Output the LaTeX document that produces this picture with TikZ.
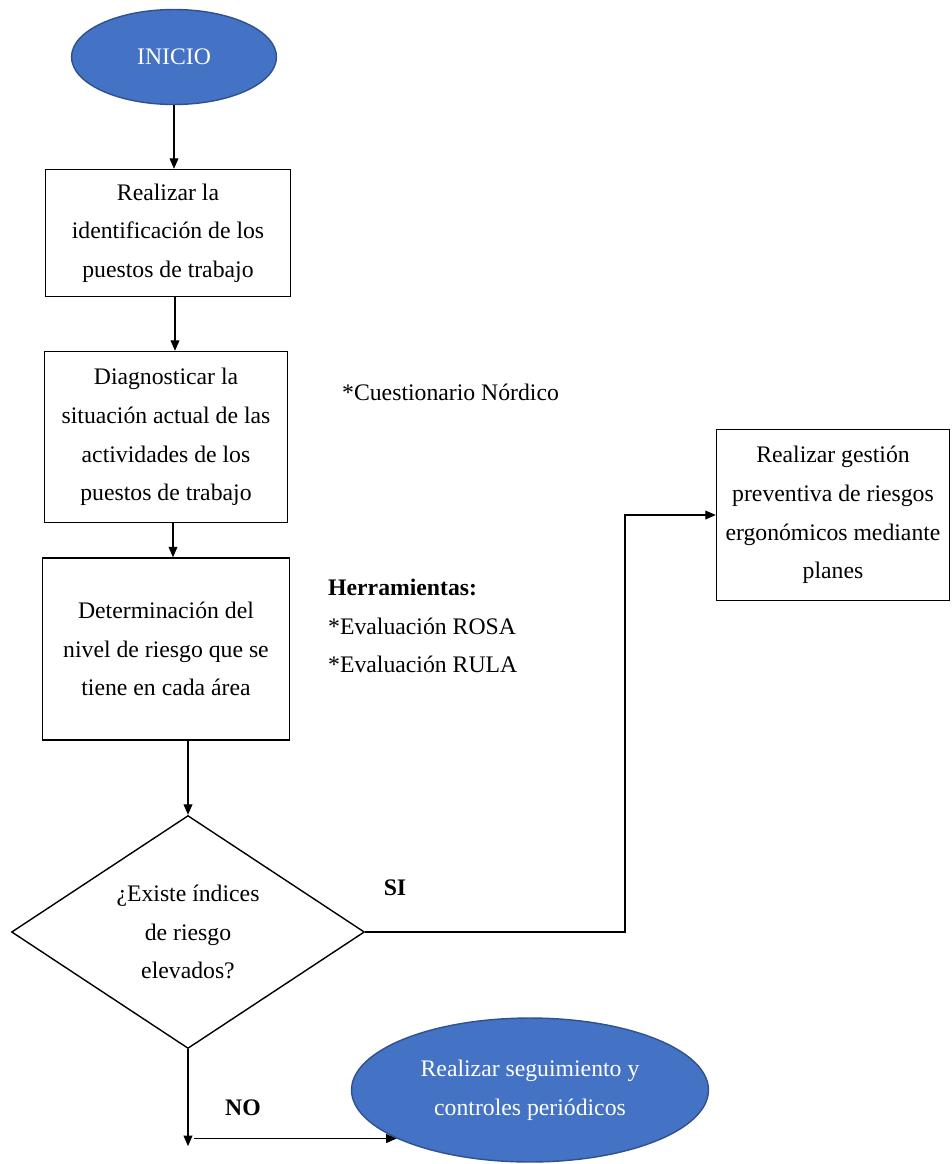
\documentclass[tikz,border=0pt]{standalone}
\usepackage{fontspec}
\setmainfont{Liberation Serif}
\usepackage{tikz}
\usetikzlibrary{shapes.geometric, arrows.meta}
\definecolor{wordblue}{RGB}{68,114,196}
\definecolor{wordnavy}{RGB}{47,82,143}

\begin{document}
\begin{tikzpicture}[x=0.02cm, y=-0.02cm,
    every node/.style={font=\fontsize{13.5}{22}\selectfont},
    caja/.style={draw, line width=0.8pt, align=center, inner sep=0pt},
    terminal/.style={ellipse, draw=wordnavy, fill=wordblue, text=white, line width=0.8pt, align=center, inner sep=0pt},
    decision/.style={diamond, draw, line width=0.8pt, align=center, inner sep=0pt, aspect=1.5},
    flecha/.style={line width=0.8pt, -{Triangle[length=6pt,width=5pt]}},
    linea/.style={line width=0.8pt}]
\useasboundingbox (0,0) rectangle (952,1164);

\node[terminal, minimum width=4.1cm, minimum height=1.9cm] (inicio) at (174,57) {INICIO};
\node[caja, minimum width=4.9cm, minimum height=2.54cm] (ident) at (168,233)
    {Realizar la\\identificación de los\\puestos de trabajo};
\node[caja, minimum width=4.86cm, minimum height=3.42cm] (diag) at (166,437)
    {Diagnosticar la\\situación actual de las\\actividades de los\\puestos de trabajo};
\node[caja, minimum width=4.94cm, minimum height=3.64cm] (nivel) at (166,649)
    {Determinación del\\nivel de riesgo que se\\tiene en cada área};
\node[decision, minimum width=7.06cm, minimum height=4.66cm] (existe) at (188,932)
    {¿Existe índices\\de riesgo\\elevados?};
\node[caja, minimum width=4.66cm, minimum height=3.42cm] (gestion) at (833,515)
    {Realizar gestión\\preventiva de riesgos\\ergonómicos mediante\\planes};
\node[terminal, minimum width=7.14cm, minimum height=2.88cm] (seguim) at (530,1090)
    {Realizar seguimiento y\\controles periódicos};

\node[anchor=west] (cuest) at (336,392) {*Cuestionario Nórdico};
\node[anchor=north west, align=left] (herram) at (322,573)
    {\textbf{Herramientas:}\\*Evaluación ROSA\\*Evaluación RULA};
\node[font=\fontsize{13.5}{22}\selectfont\bfseries] (si) at (395,888) {SI};
\node[font=\fontsize{13.5}{22}\selectfont\bfseries] (no) at (243,1108) {NO};

\draw[flecha] (inicio.south) -- (inicio.south |- ident.north);
\draw[flecha] ([xshift=0.14cm]ident.south) -- ([xshift=0.14cm]ident.south |- diag.north);
\draw[flecha] ([xshift=0.14cm]diag.south) -- ([xshift=0.14cm]diag.south |- nivel.north);
\draw[flecha] (existe.north |- nivel.south) -- (existe.north);
\draw[flecha] (existe.east) -- ++(260,0) |- (gestion.west);
\draw[flecha] (existe.south) -- ++(0,97) coordinate (noend);
\draw[flecha] ([xshift=0.12cm]seguim.200 -| noend) -- (seguim.200);
\end{tikzpicture}
\end{document}
